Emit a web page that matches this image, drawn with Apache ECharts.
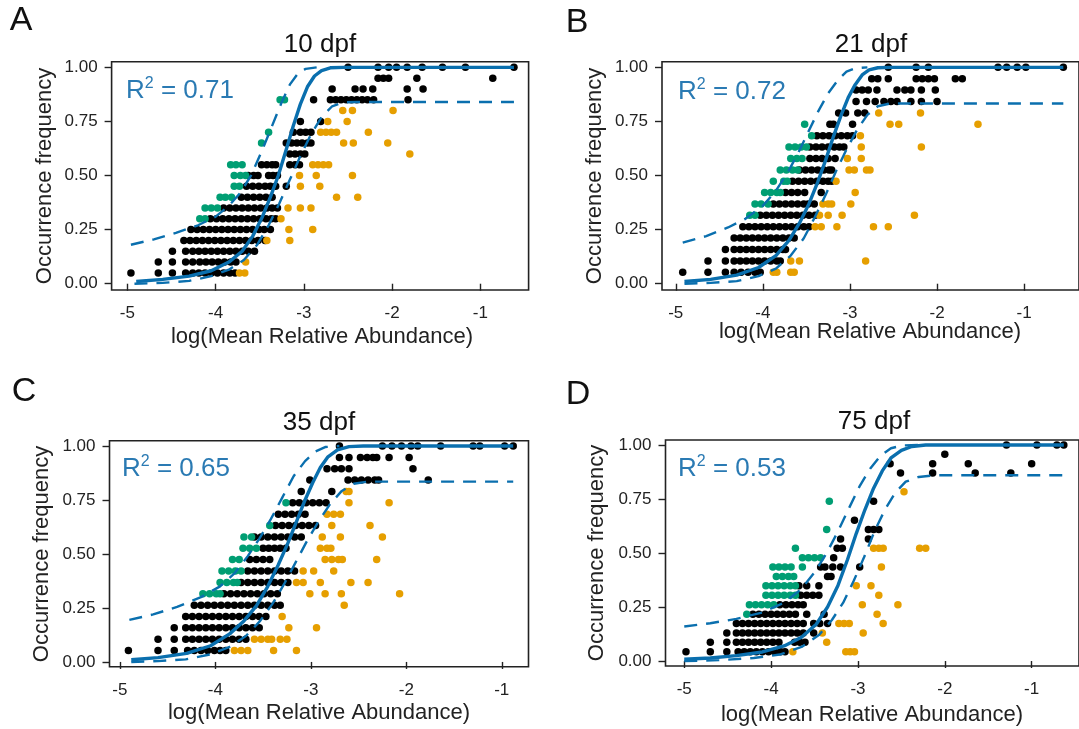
<!DOCTYPE html>
<html><head><meta charset="utf-8">
<script src="https://cdn.jsdelivr.net/npm/echarts@6/dist/echarts.min.js"></script>
<style>html,body{margin:0;padding:0;background:#fff}#c{width:1079px;height:729px}</style>
</head><body><div id="c"></div>
<script>
// ---------- DATA (rows: [occurrence frequency, [log mean relative abundance ...]]) ----------
const titles = ['10 dpf', '21 dpf', '35 dpf', '75 dpf'];
const letters = ['A', 'B', 'C', 'D'];
const r2 = ['0.71', '0.72', '0.65', '0.53'];
const xTicks = [-5, -4, -3, -2, -1];
const yTicks = [0, 0.25, 0.5, 0.75, 1];

// Panel A (10 dpf)
const A_black = [
 [0.05, [-4.96,-4.65,-4.49,-4.34,-4.26,-4.19,-4.12,-4.05,-3.98,-3.91,-3.84,-3.78]],
 [0.10, [-4.65,-4.49,-4.34,-4.26,-4.18,-4.11,-4.04,-3.97,-3.90,-3.83,-3.77]],
 [0.15, [-4.49,-4.34,-4.26,-4.19,-4.12,-4.05,-3.98,-3.91,-3.84,-3.77,-3.70,-3.63,-3.56]],
 [0.20, [-4.36,-4.29,-4.22,-4.15,-4.08,-4.01,-3.94,-3.87,-3.80,-3.73,-3.66,-3.59,-3.52,-3.44]],
 [0.25, [-4.28,-4.21,-4.14,-4.07,-4.00,-3.93,-3.86,-3.79,-3.72,-3.65,-3.58,-3.51,-3.45,-3.38]],
 [0.30, [-4.06,-3.99,-3.92,-3.85,-3.78,-3.71,-3.64,-3.57,-3.50,-3.43,-3.37,-3.32]],
 [0.35, [-3.91,-3.84,-3.77,-3.70,-3.63,-3.56,-3.49,-3.42,-3.36,-3.30]],
 [0.40, [-3.71,-3.64,-3.57,-3.50,-3.43,-3.36]],
 [0.45, [-3.65,-3.58,-3.51,-3.44,-3.38,-3.32,-3.20]],
 [0.50, [-3.63,-3.57,-3.52,-3.40,-3.35,-3.30]],
 [0.55, [-3.48,-3.42,-3.36,-3.32,-3.16,-3.10,-3.05]],
 [0.60, [-3.16,-3.10,-3.04,-2.99]],
 [0.65, [-3.20,-3.14,-3.08,-3.02,-2.96,-2.92]],
 [0.70, [-3.12,-3.04,-2.98,-2.92]],
 [0.75, [-3.04,-2.81]],
 [0.85, [-2.89,-2.70,-2.64,-2.58,-2.52,-2.46,-2.40,-2.34,-2.28,-2.21,-1.82]],
 [0.90, [-2.68,-2.42,-2.33,-2.22,-1.83,-1.65]],
 [0.95, [-2.16,-2.10,-2.04,-1.72,-0.86]],
 [1.00, [-2.50,-2.16,-2.04,-1.95,-1.83,-1.66,-1.43,-1.17,-0.62]]
];
const A_green = [
 [0.30, [-4.18,-4.12]], [0.35, [-4.12,-4.05,-3.98]], [0.40, [-3.95,-3.89,-3.82]],
 [0.45, [-3.79,-3.73]], [0.50, [-3.79,-3.72,-3.66]], [0.55, [-3.83,-3.77,-3.70]],
 [0.65, [-3.48]], [0.70, [-3.40]], [0.85, [-3.27,-3.22]]
];
const A_orange = [
 [0.05, [-3.73,-3.67]], [0.10, [-3.66]], [0.20, [-3.42,-3.16]], [0.25, [-3.17,-2.90]],
 [0.30, [-3.26]], [0.35, [-3.18,-3.04,-2.92]], [0.40, [-2.63,-2.39]], [0.45, [-3.04,-2.82]],
 [0.50, [-3.05,-2.86,-2.45]], [0.55, [-2.90,-2.84,-2.78,-2.72]], [0.60, [-1.80]],
 [0.65, [-2.55,-2.44,-2.05]], [0.70, [-2.81,-2.75,-2.69,-2.63,-2.27]], [0.75, [-2.73,-2.51]],
 [0.80, [-2.56,-2.45,-1.99]]
];
const A_fit = [[-4.9,0.01],[-4.6,0.02],[-4.3,0.035],[-4.05,0.06],[-3.85,0.10],[-3.7,0.15],[-3.58,0.22],[-3.47,0.31],[-3.38,0.40],[-3.29,0.50],[-3.20,0.62],[-3.12,0.73],[-3.04,0.83],[-2.96,0.91],[-2.88,0.96],[-2.80,0.985],[-2.70,0.998],[-2.55,1.0],[-0.62,1.0]];
const A_upper = [[-4.96,0.18],[-4.7,0.205],[-4.45,0.235],[-4.2,0.27],[-4.0,0.31],[-3.85,0.36],[-3.72,0.42],[-3.60,0.50],[-3.48,0.61],[-3.37,0.72],[-3.26,0.83],[-3.16,0.92],[-3.07,0.97],[-2.98,0.993],[-2.85,1.0]];
const A_lower = [[-4.92,0.0],[-4.6,0.004],[-4.3,0.013],[-4.05,0.035],[-3.85,0.065],[-3.68,0.11],[-3.53,0.18],[-3.40,0.27],[-3.28,0.37],[-3.16,0.48],[-3.04,0.59],[-2.92,0.69],[-2.80,0.77],[-2.68,0.82],[-2.55,0.838],[-2.40,0.84],[-0.62,0.84]];

// Panel B (21 dpf)
const B_black = [
 [0.053, [-4.92,-4.63,-4.43,-4.33,-4.25,-4.17,-4.09,-4.03]],
 [0.105, [-4.63,-4.43,-4.33,-4.26,-4.19,-4.12,-4.05,-3.98,-3.91,-3.84,-3.80]],
 [0.158, [-4.43,-4.33,-4.26,-4.19,-4.12,-4.05,-3.98,-3.91,-3.84,-3.77,-3.74]],
 [0.211, [-4.33,-4.26,-4.19,-4.12,-4.05,-3.98,-3.91,-3.84,-3.77,-3.70,-3.64]],
 [0.263, [-4.23,-4.16,-4.09,-4.02,-3.95,-3.88,-3.81,-3.74,-3.67,-3.60,-3.53,-3.47]],
 [0.316, [-4.03,-3.96,-3.89,-3.82,-3.75,-3.68,-3.61,-3.54,-3.47,-3.40]],
 [0.368, [-3.88,-3.81,-3.74,-3.67,-3.60,-3.53,-3.48,-3.41]],
 [0.421, [-3.74,-3.67,-3.60,-3.52,-3.33]],
 [0.474, [-3.66,-3.59,-3.52,-3.45,-3.38,-3.31,-3.25,-3.21]],
 [0.526, [-3.58,-3.51,-3.44,-3.37,-3.30,-3.24,-3.21]],
 [0.579, [-3.46,-3.39,-3.32,-3.25,-3.17]],
 [0.632, [-3.46,-3.39,-3.32,-3.25,-3.18,-3.12,-3.07]],
 [0.684, [-3.38,-3.31,-3.24,-3.17,-3.10,-3.03,-2.97]],
 [0.737, [-3.23,-3.19,-2.97]],
 [0.789, [-3.13,-3.05,-2.91,-2.83]],
 [0.842, [-2.93,-2.81,-2.71,-2.61,-2.53,-2.46,-2.30,-2.18,-2.00]],
 [0.895, [-2.93,-2.86,-2.79,-2.69,-2.46,-2.37,-2.30,-2.18,-2.02]],
 [0.947, [-2.75,-2.68,-2.56,-2.24,-2.17,-2.10,-2.03,-1.79,-1.71]],
 [1.000, [-2.56,-2.24,-2.10,-1.30,-1.20,-1.08,-0.98,-0.55]]
];
const B_green = [
 [0.316, [-4.15,-4.09]], [0.368, [-4.09,-4.02,-3.94]], [0.421, [-3.98,-3.91,-3.84,-3.80]],
 [0.474, [-3.88,-3.76,-3.72]], [0.526, [-3.80,-3.73,-3.66,-3.60]], [0.579, [-3.68,-3.61,-3.55]],
 [0.632, [-3.70,-3.63,-3.56,-3.50]], [0.684, [-3.44]], [0.737, [-3.52]]
];
const B_orange = [
 [0.053, [-3.88,-3.84,-3.68,-3.64]], [0.105, [-3.68,-3.58,-2.82]],
 [0.263, [-3.40,-3.33,-3.15,-2.73,-2.56]], [0.316, [-3.35,-3.25,-3.09,-2.26]],
 [0.368, [-3.31,-3.25,-3.21,-2.99]], [0.421, [-2.94]], [0.474, [-3.16]],
 [0.526, [-3.01,-2.95,-2.81,-2.77]], [0.579, [-3.03,-2.87]], [0.632, [-2.87,-2.18]],
 [0.684, [-2.88]], [0.737, [-2.54,-2.44,-1.53]], [0.789, [-2.67,-2.19]]
];
const B_fit = [[-4.9,0.01],[-4.6,0.02],[-4.3,0.04],[-4.05,0.075],[-3.85,0.13],[-3.7,0.20],[-3.58,0.28],[-3.47,0.37],[-3.37,0.47],[-3.28,0.57],[-3.19,0.68],[-3.10,0.78],[-3.02,0.86],[-2.94,0.92],[-2.86,0.965],[-2.78,0.988],[-2.68,0.998],[-2.55,1.0],[-0.55,1.0]];
const B_upper = [[-4.92,0.19],[-4.65,0.22],[-4.4,0.26],[-4.2,0.30],[-4.0,0.36],[-3.85,0.43],[-3.72,0.51],[-3.60,0.60],[-3.48,0.70],[-3.36,0.80],[-3.25,0.88],[-3.14,0.94],[-3.04,0.98],[-2.94,0.996],[-2.8,1.0]];
const B_lower = [[-4.9,0.0],[-4.6,0.004],[-4.3,0.012],[-4.05,0.035],[-3.85,0.07],[-3.68,0.13],[-3.53,0.21],[-3.40,0.31],[-3.28,0.41],[-3.16,0.52],[-3.04,0.62],[-2.92,0.71],[-2.80,0.78],[-2.68,0.82],[-2.55,0.832],[-2.40,0.833],[-0.55,0.833]];

// Panel C (35 dpf)
const C_black = [
 [0.053, [-4.91,-4.60,-4.43,-4.29,-4.22,-4.15,-4.08,-4.01,-3.95,-3.89]],
 [0.105, [-4.60,-4.43,-4.31,-4.24,-4.17,-4.10,-4.03,-3.96,-3.89,-3.82,-3.75,-3.68]],
 [0.158, [-4.43,-4.31,-4.24,-4.17,-4.10,-4.03,-3.96,-3.89,-3.82,-3.75,-3.68,-3.61,-3.54]],
 [0.211, [-4.31,-4.24,-4.17,-4.10,-4.03,-3.96,-3.89,-3.82,-3.75,-3.68,-3.61,-3.54,-3.47]],
 [0.263, [-4.22,-4.15,-4.08,-4.01,-3.94,-3.87,-3.80,-3.73,-3.66,-3.59,-3.52,-3.45,-3.38,-3.32]],
 [0.316, [-3.91,-3.84,-3.77,-3.70,-3.63,-3.56,-3.49,-3.42,-3.35]],
 [0.368, [-3.73,-3.66,-3.59,-3.52,-3.45,-3.38,-3.31,-3.24]],
 [0.421, [-3.66,-3.59,-3.52,-3.45,-3.38,-3.31,-3.24,-3.17]],
 [0.474, [-3.64,-3.57,-3.50,-3.43]],
 [0.526, [-3.50,-3.44,-3.38,-3.32,-3.26]],
 [0.579, [-3.59,-3.52,-3.45,-3.38,-3.31,-3.24,-3.17,-3.10]],
 [0.632, [-3.37,-3.30,-3.23,-3.16,-3.09,-3.02,-2.95]],
 [0.684, [-3.34,-3.27,-3.20,-3.13,-3.06]],
 [0.737, [-3.19,-3.12,-3.05,-2.98,-2.91,-2.84]],
 [0.789, [-3.10,-2.78]],
 [0.842, [-3.01,-2.61,-2.54,-2.47,-2.40,-2.33,-2.29,-1.77]],
 [0.895, [-2.83,-2.75,-2.68,-2.60,-1.93]],
 [0.947, [-2.70,-2.60,-2.48,-2.41,-2.35,-2.31,-2.18,-1.97]],
 [1.000, [-2.70,-2.25,-2.15,-2.05,-1.95,-1.88,-1.64,-1.30,-1.23,-0.97,-0.88]]
];
const C_green = [
 [0.316, [-4.13,-4.06,-3.99,-3.95]], [0.368, [-3.95,-3.88,-3.81,-3.77]],
 [0.421, [-3.93,-3.86,-3.79,-3.73]], [0.474, [-3.82,-3.75]], [0.526, [-3.71,-3.64,-3.57]],
 [0.579, [-3.70,-3.62]], [0.632, [-3.43]], [0.737, [-3.26]]
];
const C_orange = [
 [0.053, [-3.80,-3.73,-3.66,-3.39,-3.15]], [0.105, [-3.59,-3.52,-3.45,-3.41,-3.32,-3.25]],
 [0.158, [-3.23,-2.94]], [0.211, [-3.30]], [0.263, [-2.65]], [0.316, [-3.01,-2.85,-2.68,-2.07]],
 [0.368, [-3.15,-3.08,-2.90,-2.58,-2.40]], [0.421, [-3.08,-2.97,-2.76]],
 [0.474, [-2.85,-2.78,-2.71,-2.67,-2.31]], [0.526, [-2.90,-2.83,-2.79]],
 [0.579, [-2.88,-2.69,-2.25]], [0.632, [-2.78,-2.38]], [0.684, [-2.83,-2.76,-2.69]],
 [0.737, [-2.60,-2.18]], [0.789, [-2.63,-2.60]]
];
const C_fit = [[-4.88,0.01],[-4.6,0.02],[-4.3,0.04],[-4.05,0.075],[-3.85,0.13],[-3.7,0.19],[-3.57,0.26],[-3.45,0.35],[-3.34,0.45],[-3.24,0.55],[-3.15,0.65],[-3.06,0.75],[-2.98,0.83],[-2.90,0.90],[-2.82,0.95],[-2.72,0.982],[-2.60,0.997],[-2.45,1.0],[-0.88,1.0]];
const C_upper = [[-4.9,0.195],[-4.65,0.22],[-4.4,0.255],[-4.15,0.30],[-3.95,0.35],[-3.80,0.41],[-3.66,0.49],[-3.54,0.57],[-3.42,0.66],[-3.30,0.76],[-3.18,0.86],[-3.06,0.93],[-2.95,0.975],[-2.85,0.995],[-2.7,1.0]];
const C_lower = [[-4.88,0.0],[-4.6,0.004],[-4.31,0.012],[-4.05,0.035],[-3.85,0.07],[-3.68,0.12],[-3.53,0.19],[-3.40,0.27],[-3.28,0.36],[-3.16,0.46],[-3.04,0.56],[-2.92,0.65],[-2.80,0.73],[-2.68,0.79],[-2.55,0.825],[-2.40,0.835],[-0.88,0.835]];

// Panel D (75 dpf)
const D_black = [
 [0.043, [-4.98,-4.70,-4.51,-4.38,-4.31,-4.24,-4.17,-4.10,-4.03,-3.96,-3.89,-3.84]],
 [0.087, [-4.70,-4.51,-4.40,-4.33,-4.26,-4.19,-4.12,-4.05,-3.98,-3.91,-3.73,-3.67,-3.61]],
 [0.130, [-4.51,-4.40,-4.33,-4.26,-4.19,-4.12,-4.05,-3.98,-3.91,-3.84,-3.77,-3.70,-3.63,-3.51]],
 [0.174, [-4.40,-4.33,-4.26,-4.19,-4.12,-4.05,-3.98,-3.91,-3.84,-3.77,-3.70,-3.63,-3.51,-3.44,-3.35]],
 [0.217, [-4.21,-4.14,-4.07,-4.00,-3.93,-3.86,-3.79,-3.72,-3.59,-3.39]],
 [0.261, [-3.90,-3.83,-3.76,-3.69,-3.63]],
 [0.304, [-3.66,-3.59,-3.52,-3.45]],
 [0.348, [-3.68,-3.59,-3.45]],
 [0.391, [-3.35,-3.31]],
 [0.435, [-3.43,-3.38,-3.29,-3.20,-2.98]],
 [0.478, [-3.28]],
 [0.522, [-3.24,-3.18]],
 [0.565, [-3.20,-2.88]],
 [0.609, [-2.88,-2.82,-2.76]],
 [0.652, [-3.04]],
 [0.739, [-2.82]],
 [0.870, [-2.51,-2.14,-1.65,-1.24]],
 [0.913, [-2.63,-2.14,-1.73,-1.00]],
 [0.957, [-2.00]],
 [1.000, [-1.29,-0.94,-0.71,-0.63]]
];
const D_green = [
 [0.217, [-4.28]], [0.261, [-4.25,-4.18,-4.11,-4.04,-3.97]],
 [0.304, [-4.06,-3.99,-3.92,-3.85,-3.78,-3.72]], [0.348, [-4.06,-3.99,-3.92,-3.85,-3.78,-3.72]],
 [0.391, [-3.94,-3.87,-3.80,-3.74]], [0.435, [-3.98,-3.91,-3.84,-3.77,-3.64]],
 [0.478, [-3.64,-3.57,-3.50,-3.43]], [0.522, [-3.72]], [0.609, [-3.36]], [0.739, [-3.33]]
];
const D_orange = [
 [0.043, [-3.75,-3.14,-3.09,-3.04]], [0.087, [-3.36]], [0.130, [-3.41,-2.94]],
 [0.174, [-3.22,-3.16,-3.10,-2.71]], [0.217, [-2.78]], [0.261, [-2.95,-2.54]],
 [0.304, [-2.76]], [0.348, [-3.02,-2.85]], [0.435, [-2.73]],
 [0.522, [-2.82,-2.76,-2.71,-2.29,-2.22]], [0.783, [-2.47]]
];
const D_fit = [[-5.0,0.008],[-4.7,0.014],[-4.4,0.025],[-4.1,0.042],[-3.85,0.07],[-3.65,0.11],[-3.48,0.17],[-3.35,0.25],[-3.23,0.35],[-3.12,0.47],[-3.02,0.59],[-2.92,0.70],[-2.82,0.80],[-2.72,0.88],[-2.62,0.94],[-2.50,0.975],[-2.38,0.993],[-2.22,1.0],[-0.63,1.0]];
const D_upper = [[-5.0,0.16],[-4.7,0.175],[-4.4,0.195],[-4.1,0.225],[-3.85,0.27],[-3.66,0.33],[-3.50,0.41],[-3.36,0.50],[-3.23,0.60],[-3.10,0.71],[-2.98,0.81],[-2.86,0.89],[-2.74,0.95],[-2.62,0.985],[-2.48,0.998],[-2.3,1.0]];
const D_lower = [[-5.0,0.0],[-4.6,0.004],[-4.2,0.014],[-3.9,0.03],[-3.65,0.065],[-3.45,0.12],[-3.30,0.19],[-3.17,0.27],[-3.05,0.37],[-2.93,0.48],[-2.81,0.60],[-2.69,0.70],[-2.57,0.78],[-2.45,0.83],[-2.30,0.852],[-2.10,0.86],[-0.63,0.86]];

// ---------- LAYOUT ----------
const FONT = "'Liberation Sans', Arial, Helvetica, sans-serif";
const BLUE = '#0a6fae';
const BLUE_TXT = '#2a7ab3';
const layout = [
  {left:111.6, top:61.7, width:417, height:228.3, x:[-5.179,-0.454], y:[-0.029,1.026]},
  {left:662,   top:61.7, width:418, height:228.3, x:[-5.158,-0.37],  y:[-0.029,1.026]},
  {left:109.5, top:440.7,width:419, height:226,   x:[-5.108,-0.72],  y:[-0.022,1.0245]},
  {left:665.5, top:440,  width:418, height:226,   x:[-5.216,-0.455], y:[-0.023,1.023]}
];
const blacks = [A_black, B_black, C_black, D_black];
const greens = [A_green, B_green, C_green, D_green];
const oranges = [A_orange, B_orange, C_orange, D_orange];
const fits = [A_fit, B_fit, C_fit, D_fit];
const uppers = [A_upper, B_upper, C_upper, D_upper];
const lowers = [A_lower, B_lower, C_lower, D_lower];

const rowsToPts = rows => rows.flatMap(([y, xs]) => xs.map(x => [x, y]));

const grids = [], xAxes = [], yAxes = [], series = [], graphics = [];
layout.forEach((L, i) => {
  grids.push({left:L.left, top:L.top, width:L.width, height:L.height, show:true,
    borderColor:'#222', borderWidth:1.6, backgroundColor:'transparent'});
  xAxes.push({type:'value', gridIndex:i, min:L.x[0], max:L.x[1],
    axisLine:{show:false}, splitLine:{show:false},
    axisTick:{show:true, length:7, inside:false, customValues:xTicks, lineStyle:{color:'#222', width:1.4}},
    axisLabel:{customValues:xTicks, fontSize:17, color:'#222', fontFamily:FONT, margin:15,
      formatter: v => String(v)}});
  yAxes.push({type:'value', gridIndex:i, min:L.y[0], max:L.y[1],
    axisLine:{show:false}, splitLine:{show:false},
    axisTick:{show:true, length:7, inside:false, customValues:yTicks, lineStyle:{color:'#222', width:1.4}},
    axisLabel:{customValues:yTicks, fontSize:17, color:'#222', fontFamily:FONT, margin:14,
      formatter: v => v.toFixed(2)}});
  const sc = (rows, color) => ({type:'scatter', xAxisIndex:i, yAxisIndex:i, data:rowsToPts(rows),
    symbol:'circle', symbolSize:7.5, itemStyle:{color:color, opacity:1}, silent:true, z:2});
  series.push(sc(blacks[i], '#000000'));
  series.push(sc(greens[i], '#009E73'));
  series.push(sc(oranges[i], '#E69F00'));
  const ln = (data, dashed, w) => ({type:'line', xAxisIndex:i, yAxisIndex:i, data:data,
    smooth:false, showSymbol:false, symbol:'none', silent:true, z:5,
    lineStyle:{color:BLUE, width:w, type: dashed ? [13, 9] : 'solid', join:'round', cap:'butt'}});
  series.push(ln(uppers[i], true, 2.4));
  series.push(ln(lowers[i], true, 2.4));
  series.push(ln(fits[i], false, 3.4));
});

// text positions
const titlePos = [[320, 45], [871, 45], [319, 423], [874, 422]];
const letterPos = [[21, 21], [577, 23], [24, 392], [578, 395]];
const ynamePos = [[45, 176], [595, 176], [42, 554], [597, 553]];
const xnamePos = [[322, 337], [870, 332], [319, 713], [872, 715]];
const r2Pos = [[126, 91], [678, 92], [122, 469], [678, 469]];

for (let i = 0; i < 4; i++) {
  graphics.push({type:'text', x:titlePos[i][0], y:titlePos[i][1], silent:true,
    style:{text:titles[i], fontSize:26, fontFamily:FONT, fill:'#111', align:'center', verticalAlign:'middle'}});
  graphics.push({type:'text', x:letterPos[i][0], y:letterPos[i][1], silent:true,
    style:{text:letters[i], fontSize:34, fontFamily:FONT, fill:'#111', align:'center', verticalAlign:'middle'}});
  graphics.push({type:'text', x:ynamePos[i][0], y:ynamePos[i][1], rotation:Math.PI/2, silent:true,
    style:{text:'Occurrence frequency', fontSize:22, fontFamily:FONT, fill:'#222', align:'center', verticalAlign:'middle'}});
  graphics.push({type:'text', x:xnamePos[i][0], y:xnamePos[i][1], silent:true,
    style:{text:'log(Mean Relative Abundance)', fontSize:22, fontFamily:FONT, fill:'#222', align:'center', verticalAlign:'middle'}});
  graphics.push({type:'text', x:r2Pos[i][0], y:r2Pos[i][1], silent:true, z:10,
    style:{text:'{r|R}{s|2}{r| = ' + r2[i] + '}', align:'left', verticalAlign:'middle',
      rich:{ r:{fontSize:26, fontFamily:FONT, fill:BLUE_TXT, lineHeight:30},
             s:{fontSize:16, fontFamily:FONT, fill:BLUE_TXT, verticalAlign:'top', lineHeight:30} }}});
}

const chart = echarts.init(document.getElementById('c'), null, {renderer:'canvas'});
chart.setOption({
  animation:false, backgroundColor:'#ffffff',
  grid:grids, xAxis:xAxes, yAxis:yAxes, series:series, graphic:graphics
});
</script>
</body></html>
